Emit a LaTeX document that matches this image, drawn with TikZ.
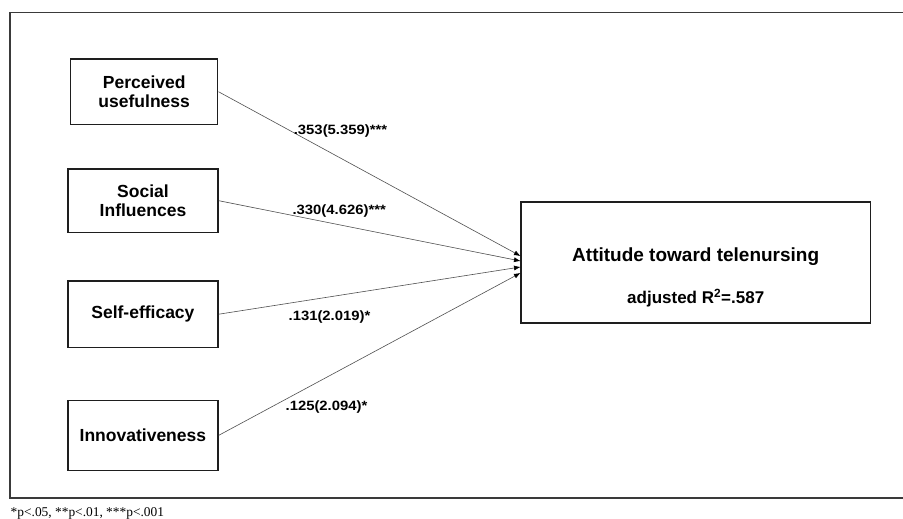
\documentclass[tikz,border=0pt]{standalone}
\usepackage{fontspec}
\setmainfont{Liberation Sans}
\newfontfamily\lblfont[FakeStretch=1.1]{Liberation Sans}
\newfontfamily\notefont{Liberation Serif}
\usetikzlibrary{arrows.meta}
\definecolor{framegray}{HTML}{3A3A3A}
\definecolor{boxline}{HTML}{1E1E1E}
\definecolor{linkgray}{HTML}{505050}
\tikzset{
  varbox/.style={draw=boxline, line width=1.5pt, inner sep=0pt, align=center,
    font=\fontsize{17.5}{19.5}\selectfont\bfseries},
  outbox/.style={draw=boxline, line width=1.5pt, inner sep=0pt},
  link/.style={draw=linkgray, line width=0.6pt, -{Latex[length=6.5pt,width=5pt,color=black]}},
  coef/.style={anchor=base, inner sep=0pt, font=\lblfont\fontsize{13.5}{15}\selectfont\bfseries},
}
\begin{document}
\begin{tikzpicture}[x=1pt,y=-1pt]
\useasboundingbox (0,0) rectangle (903,519);
\clip (0,0) rectangle (903,519);
\fill[white] (0,0) rectangle (903,519);
% outer frame (right side runs off the page)
\draw[framegray, line width=1.6pt] (920,12.7) -- (10,12.7) -- (10,498) -- (920,498);

% predictor boxes
\node[varbox, minimum width=147pt, minimum height=65.6pt] (pu) at (144.2,91.7) {Perceived\\usefulness};
\node[varbox, minimum width=150pt, minimum height=63.3pt] (si) at (143,200.7) {Social\\Influences};
\node[varbox, minimum width=150.3pt, minimum height=66.3pt] (se) at (142.9,314.2) {Self-efficacy};
\node[varbox, minimum width=150.3pt, minimum height=70pt] (in) at (142.9,435.3) {Innovativeness};

% outcome box
\node[outbox, minimum width=349.5pt, minimum height=121pt] (att) at (695.7,262.5) {};
\node[anchor=base, inner sep=0pt, font=\fontsize{19}{21}\selectfont\bfseries] (attt) at (695.7,261.7) {Attitude toward telenursing};
\node[anchor=base, inner sep=0pt, font=\fontsize{17}{19}\selectfont\bfseries] (r2) at (695.7,303.3) {adjusted R\textsuperscript{2}=.587};

% arrow end points on the outcome box
\coordinate (t1) at (520.5,256);
\coordinate (t2) at (520.5,261);
\coordinate (t3) at (520.5,267);
\coordinate (t4) at (520.5,273);

\draw[link] (pu.east) -- (t1);
\draw[link] (si.east) -- (t2);
\draw[link] (se.east) -- (t3);
\draw[link] (in.east) -- (t4);

% coefficients
\node[coef] (c1) at (340.5,135) {.353(5.359)***};
\node[coef] (c2) at (339.2,214) {.330(4.626)***};
\node[coef] (c3) at (329.5,320) {.131(2.019)*};
\node[coef] (c4) at (326.5,410) {.125(2.094)*};

% footnote
\node[anchor=base west, inner sep=0pt, font=\notefont\fontsize{13.4}{15}\selectfont] (note) at (10.5,516.5) {*p<.05, **p<.01, ***p<.001};
\end{tikzpicture}
\end{document}
